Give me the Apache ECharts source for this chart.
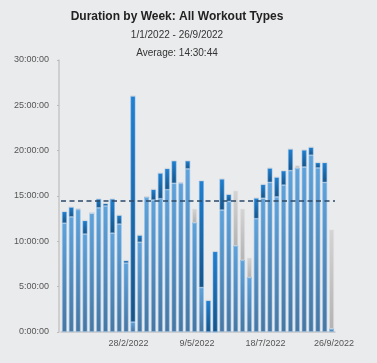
<!DOCTYPE html>
<html><head><meta charset="utf-8">
<script src="https://cdn.jsdelivr.net/npm/echarts@6/dist/echarts.min.js"></script>
<style>html,body{margin:0;padding:0;background:#eaebed;}#c{width:377px;height:363px;}</style>
</head><body><div id="c"></div>
<script>
var weeks = ['27/12/2021','3/1/2022','10/1/2022','17/1/2022','24/1/2022','31/1/2022','7/2/2022','14/2/2022','21/2/2022','28/2/2022',
 '7/3/2022','14/3/2022','21/3/2022','28/3/2022','4/4/2022','11/4/2022','18/4/2022','25/4/2022','2/5/2022','9/5/2022',
 '16/5/2022','23/5/2022','30/5/2022','6/6/2022','13/6/2022','20/6/2022','27/6/2022','4/7/2022','11/7/2022','18/7/2022',
 '25/7/2022','1/8/2022','8/8/2022','15/8/2022','22/8/2022','29/8/2022','5/9/2022','12/9/2022','19/9/2022','26/9/2022'];
// hours per week by workout type
var typeA = [12.0,12.7,13.5,10.8,13.1,13.7,13.9,10.9,11.9,7.6,
 1.1,9.9,14.85,14.55,14.7,15.7,16.4,16.4,18.0,12.05,
 4.9,0,0,13.45,14.4,9.5,7.9,6.0,12.5,14.75,
 16.5,14.9,16.2,17.8,18.05,18.2,19.5,18.1,16.5,0.35];
var typeB = [1.3,1.1,0.1,1.5,0,1.0,0.3,3.8,1.0,0.3,
 24.95,0.8,0,1.2,2.85,2.35,2.5,0.1,0.9,0,
 11.8,3.5,8.9,3.45,0.8,0,0,0,2.3,1.55,
 1.6,2.2,1.6,2.4,0,1.9,0.9,0.6,2.2,0];
var typeC = [0,0,0,0,0,0,0,0,0,0,
 0,0,0.15,0,0,0,0,0,0,1.55,
 0,0,0,0,0,6.1,5.7,2.2,0,0,
 0,0,0,0,0.35,0,0,0,0,10.95];
var yTicks = [0,5,10,15,20,25,30];
var averageHours = 14 + 30/60 + 44/3600;
var titleText = 'Duration by Week: All Workout Types';
var subText1 = '1/1/2022 - 26/9/2022';
var subText2 = 'Average: 14:30:44';

function grad(top, bottom){
  return new echarts.graphic.LinearGradient(0,0,0,1,[{offset:0,color:top},{offset:1,color:bottom}]);
}
var chart = echarts.init(document.getElementById('c'), null, {renderer:'canvas'});
var font = '"Liberation Sans", Arial, sans-serif';
chart.setOption({
  backgroundColor:'#eaebed',
  animation:false,
  graphic:[
    {type:'text', x:177, y:17, style:{text:titleText, fontFamily:font, fontSize:12, fontWeight:'bold', fill:'#222', textAlign:'center', textVerticalAlign:'middle'}},
    {type:'text', x:177, y:35, style:{text:subText1, fontFamily:font, fontSize:10, fill:'#333', textAlign:'center', textVerticalAlign:'middle'}},
    {type:'text', x:177, y:53, style:{text:subText2, fontFamily:font, fontSize:10, fill:'#333', textAlign:'center', textVerticalAlign:'middle'}}
  ],
  grid:{left:61, right:42, top:60, bottom:31, containLabel:false},
  xAxis:{
    type:'category', data:weeks,
    axisLine:{lineStyle:{color:'#c6c6c6', width:1.5}},
    axisTick:{show:false},
    axisLabel:{interval:function(i){return i%10===9;}, color:'#555', fontSize:9, fontFamily:font, margin:7, padding:[0,0,0,5]}
  },
  yAxis:{
    type:'value', min:0, max:30, interval:5, offset:2,
    axisLine:{show:true, lineStyle:{color:'#c6c6c6', width:1.5}},
    axisTick:{show:true, length:2, lineStyle:{color:'#bbb'}},
    splitLine:{show:false},
    axisLabel:{color:'#555', fontSize:9, fontFamily:font, margin:10,
      formatter:function(v){ return yTicks.indexOf(v)>=0 ? v + ':00:00' : ''; }}
  },
  series:[
    {type:'bar', name:'A', stack:'t', data:typeA, barWidth:5,
     itemStyle:{color:grad('#5ea2db','#4876a1'), borderColor:'rgba(150,195,235,0.7)', borderWidth:0.8},
     markLine:{silent:true, symbol:'none', label:{show:false},
       lineStyle:{color:'#2b4a68', type:[5,3.5], width:1.5},
       data:[{yAxis:averageHours}]}},
    {type:'bar', name:'B', stack:'t', data:typeB, barWidth:5,
     itemStyle:{color:grad('#1f80d2','#175487'), borderColor:'rgba(120,175,225,0.7)', borderWidth:0.8}},
    {type:'bar', name:'C', stack:'t', data:typeC, barWidth:5,
     itemStyle:{color:grad('#d4d4d4','#b4b4b4'), borderColor:'rgba(225,225,225,0.7)', borderWidth:0.8}}
  ]
});
</script></body></html>
